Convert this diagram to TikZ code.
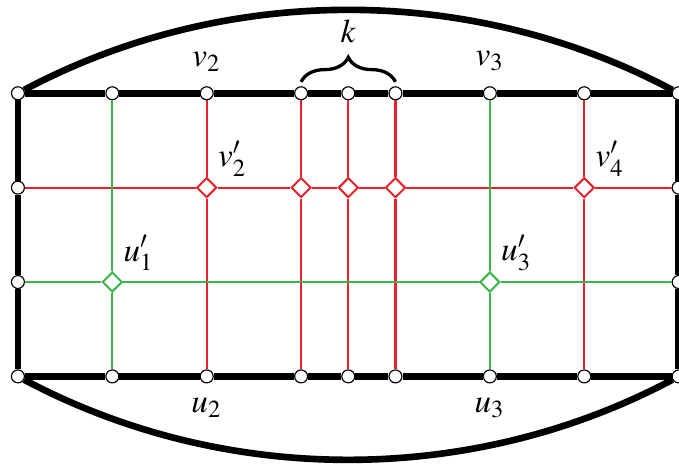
\documentclass[tikz,border=0pt]{standalone}
\usepackage{amssymb,amsmath}
\usepackage{mathptmx}
\usepackage{tikz}
\usetikzlibrary{shapes.geometric,decorations.pathreplacing}
\usepackage{xcolor}
\definecolor{gridred}{RGB}{230,35,45}
\definecolor{gridgreen}{RGB}{60,180,75}

\begin{document}
\begin{tikzpicture}[x=1cm,y=1cm,label distance=1pt,
    vtx/.style={circle,draw,fill=white,inner sep=0pt,minimum size=3.9pt,line width=0.35pt},
    rsq/.style={diamond,draw=gridred,fill=white,inner sep=0pt,minimum size=6pt,line width=0.6pt},
    gsq/.style={diamond,draw=gridgreen,fill=white,inner sep=0pt,minimum size=6pt,line width=0.6pt},
    redln/.style={gridred,line width=0.65pt},
    grnln/.style={gridgreen,line width=0.65pt},
    thk/.style={line width=2pt}]
  \useasboundingbox (-0.19,-0.924) rectangle (7.004,3.988);

  % top boundary vertices
  \node[vtx] (T0) at (0,3) {};
  \node[vtx] (T1) at (1,3) {};
  \node[vtx,label=above:$v_2$] (T2) at (2,3) {};
  \node[vtx] (T3) at (3,3) {};
  \node[vtx] (T4) at (3.5,3) {};
  \node[vtx] (T5) at (4,3) {};
  \node[vtx,label=above:$v_3$] (T6) at (5,3) {};
  \node[vtx] (T7) at (6,3) {};
  \node[vtx] (T8) at (7,3) {};

  % bottom boundary vertices
  \node[vtx] (B0) at (0,0) {};
  \node[vtx] (B1) at (1,0) {};
  \node[vtx,label=below:$u_2$] (B2) at (2,0) {};
  \node[vtx] (B3) at (3,0) {};
  \node[vtx] (B4) at (3.5,0) {};
  \node[vtx] (B5) at (4,0) {};
  \node[vtx,label=below:$u_3$] (B6) at (5,0) {};
  \node[vtx] (B7) at (6,0) {};
  \node[vtx] (B8) at (7,0) {};

  % side vertices
  \node[vtx] (L1) at (0,1) {};
  \node[vtx] (L2) at (0,2) {};
  \node[vtx] (R1) at (7,1) {};
  \node[vtx] (R2) at (7,2) {};

  % crossings
  \node[rsq,label={[label distance=-2.5pt]above right:$v'_2$}] (V2) at (2,2) {};
  \node[rsq] (K1) at (3,2) {};
  \node[rsq] (K2) at (3.5,2) {};
  \node[rsq] (K3) at (4,2) {};
  \node[rsq,label={[label distance=-2.5pt]above right:$v'_4$}] (V4) at (6,2) {};
  \node[gsq,label={[label distance=-2.5pt]above right:$u'_1$}] (U1) at (1,1) {};
  \node[gsq,label={[label distance=-2.5pt]above right:$u'_3$}] (U3) at (5,1) {};

  % red paths
  \draw[redln] (T2) -- (V2) -- (B2);
  \draw[redln] (T3) -- (K1) -- (B3);
  \draw[redln] (T4) -- (K2) -- (B4);
  \draw[redln] (T5) -- (K3) -- (B5);
  \draw[redln] (T7) -- (V4) -- (B7);
  \draw[redln] (L2) -- (V2) -- (K1) -- (K2) -- (K3) -- (V4) -- (R2);

  % green paths
  \draw[grnln] (T1) -- (U1) -- (B1);
  \draw[grnln] (T6) -- (U3) -- (B6);
  \draw[grnln] (L1) -- (U1) -- (U3) -- (R1);

  % outer frame
  \draw[thk] (T0) -- (T1) -- (T2) -- (T3) -- (T4) -- (T5) -- (T6) -- (T7) -- (T8);
  \draw[thk] (B0) -- (B1) -- (B2) -- (B3) -- (B4) -- (B5) -- (B6) -- (B7) -- (B8);
  \draw[thk] (T0) -- (L2) -- (L1) -- (B0);
  \draw[thk] (T8) -- (R2) -- (R1) -- (B8);
  \draw[thk] (T0) to[out=28,in=152,looseness=0.9] (T8);
  \draw[thk] (B0) to[out=-28,in=-152,looseness=0.9] (B8);

  % brace over the k columns
  \draw[decorate,decoration={brace,amplitude=7.4pt},line width=1pt]
    ([yshift=1.3pt]T3.north) -- ([yshift=1.3pt]T5.north) node[midway,above=7.8pt] {$k$};
\end{tikzpicture}
\end{document}
